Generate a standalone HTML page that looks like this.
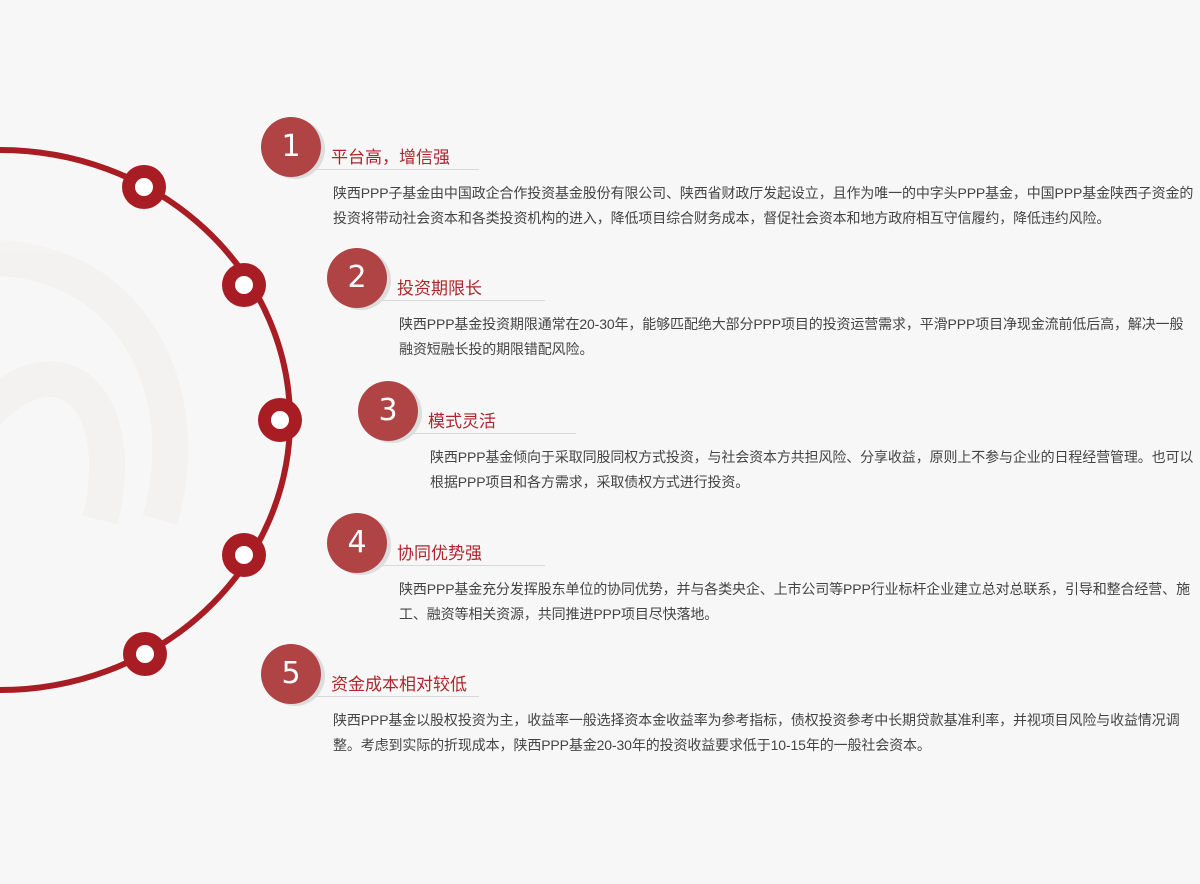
<!DOCTYPE html>
<html><head><meta charset="utf-8"><style>
body{margin:0;width:1200px;height:884px;background:#f7f7f7;position:relative;overflow:hidden;font-family:"Liberation Sans","Noto Sans CJK SC",sans-serif}
.it{position:absolute}
.c{position:absolute;width:60px;height:60px;border-radius:50%;background:#b04445;color:#fff;font-size:30px;line-height:60px;text-align:center;box-shadow:4px 2px 0 #ddd;font-family:"DejaVu Sans",sans-serif}
.t{position:absolute;left:70px;top:26px;font-size:17px;color:#b0252d;white-space:nowrap}
.ln{position:absolute;left:40px;top:52px;width:178px;height:1px;background:#d8d8d8}
.b{position:absolute;left:72px;top:64px;font-size:14px;letter-spacing:-0.12px;color:#444;line-height:25px;white-space:nowrap}
</style></head><body>
<svg width="1200" height="884" style="position:absolute;left:0;top:0">
<g fill="none" stroke="#f2f0ec" stroke-width="36" opacity="0.6">
<path d="M-40 260 C120 240 200 380 160 520"/>
<path d="M-20 420 C60 330 130 400 100 520"/>
</g>
<path d="M0 150 A290 270 0 0 1 0 690" fill="none" stroke="#a81d24" stroke-width="6"/>
<g fill="#a81d24">
<circle cx="144" cy="187" r="22"/><circle cx="244" cy="285" r="22"/><circle cx="280" cy="420" r="22"/><circle cx="244" cy="555" r="22"/><circle cx="145" cy="654" r="22"/>
</g>
<g fill="#fff">
<circle cx="144" cy="187" r="9"/><circle cx="244" cy="285" r="9"/><circle cx="280" cy="420" r="9"/><circle cx="244" cy="555" r="9"/><circle cx="145" cy="654" r="9"/>
</g>
</svg>
<div class="it" style="left:261px;top:117px"><div class="ln"></div><div class="c">1</div><div class="t">平台高，增信强</div>
<div class="b">陕西PPP子基金由中国政企合作投资基金股份有限公司、陕西省财政厅发起设立，且作为唯一的中字头PPP基金，中国PPP基金陕西子资金的<br>投资将带动社会资本和各类投资机构的进入，降低项目综合财务成本，督促社会资本和地方政府相互守信履约，降低违约风险。</div></div>
<div class="it" style="left:327px;top:248px"><div class="ln"></div><div class="c">2</div><div class="t">投资期限长</div>
<div class="b">陕西PPP基金投资期限通常在20-30年，能够匹配绝大部分PPP项目的投资运营需求，平滑PPP项目净现金流前低后高，解决一般<br>融资短融长投的期限错配风险。</div></div>
<div class="it" style="left:358px;top:381px"><div class="ln"></div><div class="c">3</div><div class="t">模式灵活</div>
<div class="b">陕西PPP基金倾向于采取同股同权方式投资，与社会资本方共担风险、分享收益，原则上不参与企业的日程经营管理。也可以<br>根据PPP项目和各方需求，采取债权方式进行投资。</div></div>
<div class="it" style="left:327px;top:513px"><div class="ln"></div><div class="c">4</div><div class="t">协同优势强</div>
<div class="b">陕西PPP基金充分发挥股东单位的协同优势，并与各类央企、上市公司等PPP行业标杆企业建立总对总联系，引导和整合经营、施<br>工、融资等相关资源，共同推进PPP项目尽快落地。</div></div>
<div class="it" style="left:261px;top:644px"><div class="ln"></div><div class="c">5</div><div class="t">资金成本相对较低</div>
<div class="b">陕西PPP基金以股权投资为主，收益率一般选择资本金收益率为参考指标，债权投资参考中长期贷款基准利率，并视项目风险与收益情况调<br>整。考虑到实际的折现成本，陕西PPP基金20-30年的投资收益要求低于10-15年的一般社会资本。</div></div>
</body></html>
